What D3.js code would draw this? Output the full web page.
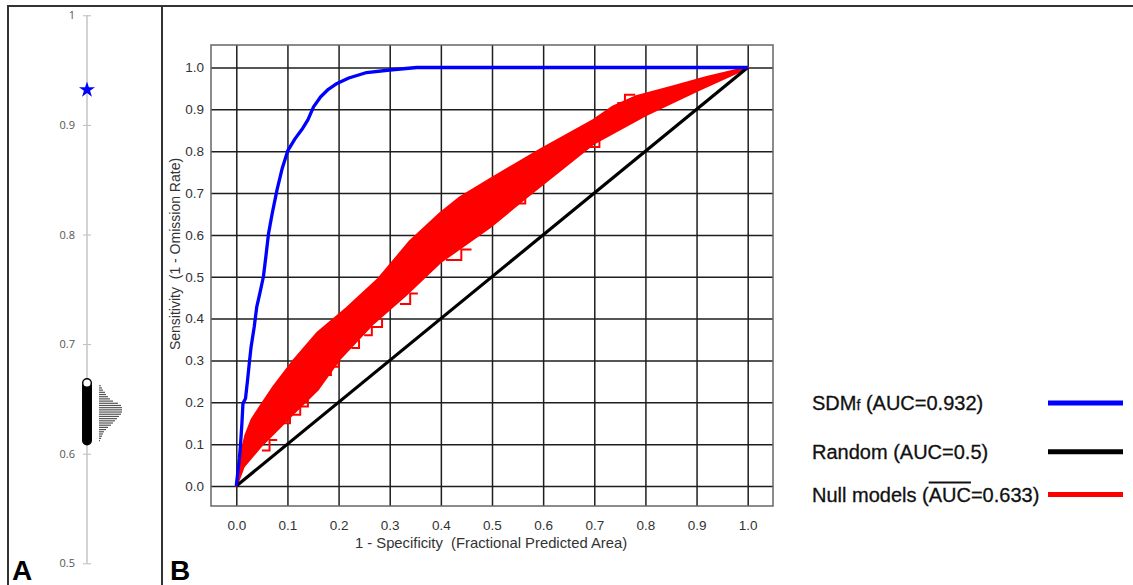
<!DOCTYPE html>
<html><head><meta charset="utf-8">
<script src="https://cdn.jsdelivr.net/npm/d3@7"></script>
<style>
html,body{margin:0;padding:0;background:#fff;}
svg{display:block;}
text{white-space:pre;}
</style></head>
<body>
<svg id="chart" width="1133" height="585"></svg>
<script>
// ---------- DATA ----------
// Panel A
const aTicks = [0.5, 0.6, 0.7, 0.8, 0.9, 1];
const aTickLabels = ["0.5", "0.6", "0.7", "0.8", "0.9", "1"];
const sdmAuc = 0.932;
const nullAucMax = 0.6645;
const histBins = [0.662,0.660,0.658,0.656,0.654,0.652,0.650,0.648,0.646,0.644,0.642,0.640,0.638,0.636,0.634,0.632,0.630,0.628,0.626,0.624,0.622,0.620,0.618,0.616,0.614,0.612];
const histCounts = [2,3,4,6,7,9,11,14,19,22,23,23,23,22,20,18,16,14,12,9,7,5,4,3,2,1];

// Panel B
const xTicks = [0,0.1,0.2,0.3,0.4,0.5,0.6,0.7,0.8,0.9,1.0];
const yTicks = [0,0.1,0.2,0.3,0.4,0.5,0.6,0.7,0.8,0.9,1.0];
const sdmCurve = [[0,0],[0.006,0.066],[0.008,0.094],[0.011,0.15],[0.013,0.197],[0.018,0.209],[0.022,0.253],[0.026,0.3],[0.029,0.333],[0.035,0.38],[0.04,0.428],[0.046,0.46],[0.053,0.5],[0.058,0.55],[0.063,0.603],[0.07,0.65],[0.0795,0.707],[0.09,0.76],[0.101,0.802],[0.115,0.83],[0.13,0.855],[0.14,0.875],[0.151,0.906],[0.165,0.93],[0.18,0.948],[0.197,0.962],[0.22,0.975],[0.255,0.988],[0.3,0.994],[0.353,1.0],[1.0,1.0]];
const randomLine = [[0,0],[1,1]];
const nullUpper = [[0,0],[0.008,0.07],[0.018,0.12],[0.03,0.158],[0.047,0.19],[0.073,0.237],[0.112,0.30],[0.158,0.365],[0.216,0.425],[0.278,0.495],[0.34,0.585],[0.399,0.652],[0.438,0.69],[0.496,0.733],[0.594,0.803],[0.698,0.874],[0.735,0.905],[0.78,0.93],[0.855,0.955],[0.92,0.977],[1,1]];
const nullLower = [[0,0],[0.014,0.046],[0.047,0.094],[0.086,0.142],[0.112,0.174],[0.158,0.229],[0.203,0.305],[0.268,0.389],[0.33,0.455],[0.399,0.535],[0.496,0.619],[0.568,0.691],[0.698,0.818],[0.80,0.886],[0.903,0.946],[1,1]];
const nullStepA = [[0.09,0.15],[0.105,0.15],[0.105,0.17],[0.125,0.17],[0.125,0.19],[0.14,0.19],[0.14,0.21]];
const nullStepB = [[0.165,0.265],[0.185,0.265],[0.185,0.285],[0.2,0.285],[0.2,0.31]];
const nullStepC = [[0.25,0.36],[0.265,0.36],[0.265,0.38],[0.285,0.38],[0.285,0.4]];
const nullStepD = [[0.32,0.435],[0.34,0.435],[0.34,0.46],[0.355,0.46]];
const nullStepE = [[0.41,0.54],[0.44,0.54],[0.44,0.565],[0.46,0.565]];
const nullStepF = [[0.55,0.675],[0.565,0.675],[0.565,0.7],[0.58,0.7]];
const nullStepG = [[0.69,0.81],[0.71,0.81],[0.71,0.83]];
const nullStepH = [[0.745,0.915],[0.76,0.915],[0.76,0.935],[0.78,0.935]];
const nullStepI = [[0.05,0.085],[0.065,0.085],[0.065,0.11],[0.08,0.11]];
const nullStepJ = [[0.225,0.33],[0.24,0.33],[0.24,0.35]];
const legendLabels = ["SDM", "Random (AUC=0.5)", "Null models (AUC=0.633)"];
const legendColors = ["#0000ff", "#000000", "#ff0000"];

// ---------- DRAW ----------
const svg = d3.select("#chart");
const font = "'Liberation Sans', Arial, sans-serif";

// outer frame
svg.append("line").attr("x1",8).attr("x2",1133).attr("y1",6).attr("y2",6).attr("stroke","#333").attr("stroke-width",2);
svg.append("line").attr("x1",8).attr("x2",8).attr("y1",5).attr("y2",585).attr("stroke","#333").attr("stroke-width",2);
svg.append("line").attr("x1",162).attr("x2",162).attr("y1",5).attr("y2",585).attr("stroke","#333").attr("stroke-width",2);

// ---- Panel A ----
const ya = d3.scaleLinear().domain([0.5,1]).range([563.3,15.3]);
const ax = 87;
const gA = svg.append("g").attr("transform",`translate(${ax},0)`);
const axisA = d3.axisLeft(ya).tickValues(aTicks).tickFormat((d,i)=>aTickLabels[i]).tickSize(4).tickPadding(8);
gA.call(axisA);
gA.select(".domain").remove();
gA.selectAll(".tick line").attr("x2",4).attr("x1",-4).attr("stroke","#bbb");
gA.selectAll(".tick text").attr("font-family","'Open Sans', sans-serif").attr("font-size",11).attr("fill","#555");
gA.append("line").attr("y1",ya(1)).attr("y2",ya(0.5)).attr("stroke","#c4c4c4").attr("stroke-width",1.5);

// histogram
const hx = d3.scaleLinear().domain([0, d3.max(histCounts)]).range([0,23]);
gA.selectAll("line.hist").data(histBins).join("line").attr("class","hist")
  .attr("x1",12).attr("x2",(d,i)=>12+hx(histCounts[i]))
  .attr("y1",d=>ya(d)).attr("y2",d=>ya(d)).attr("stroke","#555").attr("stroke-width",1.2);

// null points
gA.selectAll("circle.nullpt").data(histBins).join("circle").attr("class","nullpt")
  .attr("cx",0).attr("cy",d=>ya(d)).attr("r",4.3).attr("fill","#000").attr("stroke","#000").attr("stroke-width",1.4);
gA.append("circle").attr("cx",0).attr("cy",ya(nullAucMax)).attr("r",4.3).attr("fill","#fff").attr("stroke","#000").attr("stroke-width",1.4);
gA.append("path").attr("d",d3.symbol().type(d3.symbolStar).size(80)()).attr("transform",`translate(0,${ya(sdmAuc)})`).attr("fill","#0000ff");

svg.append("text").attr("x",12).attr("y",580).text("A").attr("font-family",font).attr("font-weight","bold").attr("font-size",28).attr("fill","#000");
svg.append("text").attr("x",170).attr("y",580).text("B").attr("font-family",font).attr("font-weight","bold").attr("font-size",28).attr("fill","#000");

// ---- Panel B ----
const frame = {l:211, r:773, t:45, b:506};
const x = d3.scaleLinear().domain([0,1]).range([236.3,747.7]);
const y = d3.scaleLinear().domain([0,1]).range([486,67.5]);

const gx = svg.append("g").attr("transform",`translate(0,${frame.b})`)
  .call(d3.axisBottom(x).tickValues(xTicks).tickFormat(d3.format(".1f")).tickSize(-(frame.b-frame.t)).tickPadding(14));
const gy = svg.append("g").attr("transform",`translate(${frame.l},0)`)
  .call(d3.axisLeft(y).tickValues(yTicks).tickFormat(d3.format(".1f")).tickSize(-(frame.r-frame.l)).tickPadding(7));
[gx,gy].forEach(g=>{
  g.select(".domain").remove();
  g.selectAll(".tick line").attr("stroke","#1e1e1e").attr("stroke-width",1.5);
  g.selectAll(".tick text").attr("font-family",font).attr("font-size",13.5).attr("fill","#333");
});
svg.append("rect").attr("x",frame.l).attr("y",frame.t).attr("width",frame.r-frame.l).attr("height",frame.b-frame.t)
  .attr("fill","none").attr("stroke","#666").attr("stroke-width",1.5);

const line = d3.line().x(d=>x(d[0])).y(d=>y(d[1]));

// null band
const band = nullUpper.concat(nullLower.slice().reverse());
svg.append("path").attr("d",line(band)+"Z").attr("fill","#ff0000").attr("stroke","#ff0000").attr("stroke-width",2.5).attr("stroke-linejoin","round");
[nullStepA,nullStepB,nullStepC,nullStepD,nullStepE,nullStepF,nullStepG,nullStepH,nullStepI,nullStepJ].forEach(s=>{
  svg.append("path").attr("d",line(s)).attr("fill","none").attr("stroke","#ff0000").attr("stroke-width",2);
});
// random
svg.append("path").attr("d",line(randomLine)).attr("stroke","#000").attr("stroke-width",3.2).attr("fill","none");
// sdm
svg.append("path").attr("d",line(sdmCurve)).attr("stroke","#0000ff").attr("stroke-width",3.3).attr("fill","none").attr("stroke-linejoin","round");

// axis titles
svg.append("text").attr("x",491).attr("y",548).attr("text-anchor","middle").attr("font-family",font).attr("font-size",14.8).attr("fill","#333")
  .text("1 - Specificity  (Fractional Predicted Area)");
svg.append("text").attr("transform","translate(180,254) rotate(-90)").attr("text-anchor","middle").attr("font-family",font).attr("font-size",14).attr("fill","#333")
  .text("Sensitivity  (1 - Omission Rate)");

// legend
const legY = [403, 451.7, 494.5];
const legFs = 20;
const t0 = svg.append("text").attr("x",812).attr("y",legY[0]+7.2).attr("font-family",font).attr("font-size",legFs).attr("fill","#111").attr("stroke","#111").attr("stroke-width",0.3);
t0.append("tspan").text(legendLabels[0]);
t0.append("tspan").attr("font-size",14).text("f");
t0.append("tspan").text(" (AUC=0.932)");
svg.append("text").attr("x",812).attr("y",legY[1]+7.2).attr("font-family",font).attr("font-size",legFs).attr("fill","#111").attr("stroke","#111").attr("stroke-width",0.3).text(legendLabels[1]);
const t2 = svg.append("text").attr("x",812).attr("y",legY[2]+7.2).attr("font-family",font).attr("font-size",legFs).attr("fill","#111").attr("stroke","#111").attr("stroke-width",0.3).text(legendLabels[2]);
// overline above AUC
const n2 = t2.node();
const idx = legendLabels[2].indexOf("AUC");
const s0 = n2.getStartPositionOfChar(idx).x;
const e0 = n2.getEndPositionOfChar(idx+2).x;
svg.append("line").attr("x1",s0).attr("x2",e0).attr("y1",legY[2]-12).attr("y2",legY[2]-12).attr("stroke","#111").attr("stroke-width",1.8);
svg.selectAll("line.leg").data(legendColors).join("line").attr("class","leg")
  .attr("x1",1048).attr("x2",1123).attr("y1",(d,i)=>legY[i]).attr("y2",(d,i)=>legY[i])
  .attr("stroke",d=>d).attr("stroke-width",5);
</script>
</body></html>
